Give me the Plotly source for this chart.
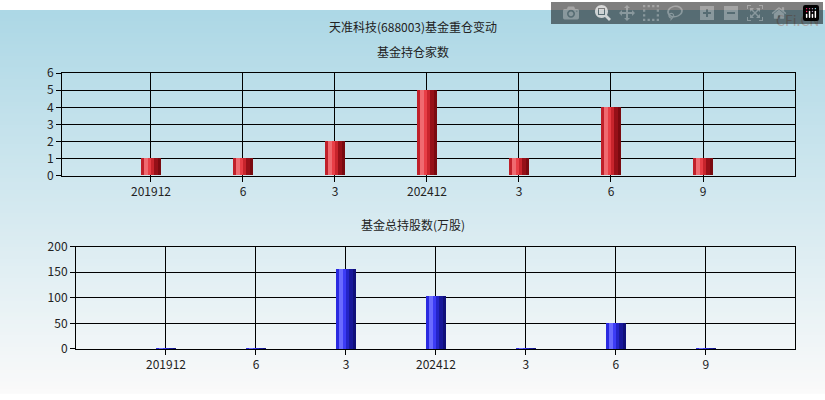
import plotly.graph_objects as go

labels = ["201912", "6", "3", "202412", "3", "6", "9"]
fund_count = [1, 1, 2, 5, 1, 4, 1]
fund_shares = [1.5, 1.5, 158, 105, 1.5, 52, 1.5]

x = list(range(len(labels)))
bar_w = 0.22

red_slices = ["#c0202a", "#f06a70", "#e83e46", "#c8242c", "#961018", "#7a0a10"]
blue_slices = ["#2a2ae0", "#6a6aff", "#3c3cf6", "#2424c8", "#18189a", "#10107a"]

fig = go.Figure()


def add_bars(values, colors, xa, ya):
    n = len(colors)
    for i, c in enumerate(colors):
        fig.add_trace(go.Bar(
            x=x, y=values, width=bar_w / n, offset=-bar_w / 2 + i * bar_w / n,
            marker=dict(color=c, line=dict(width=0)),
            xaxis=xa, yaxis=ya, showlegend=False, hoverinfo="y"))


add_bars(fund_count, red_slices, "x", "y")
add_bars(fund_shares, blue_slices, "x2", "y2")

# background gradient
shapes = []
n = 100
for i in range(n):
    t = i / (n - 1)
    r = int(173 + (250 - 173) * t)
    g = int(216 + (250 - 216) * t)
    b = int(230 + (250 - 230) * t)
    shapes.append(dict(type="rect", xref="paper", yref="paper", x0=0, x1=1,
                       y0=1 - (i + 1) / n - 0.002, y1=1 - i / n,
                       fillcolor=f"rgb({r},{g},{b})", line=dict(width=0), layer="below"))

axis_common = dict(showline=True, linecolor="black", linewidth=1, mirror=True,
                   gridcolor="black", gridwidth=1, ticks="outside", tickcolor="black",
                   tickfont=dict(size=12, color="#222"), zeroline=False)

fig.update_layout(
    width=825, height=400,
    margin=dict(l=0, r=0, t=0, b=0),
    paper_bgcolor="rgba(0,0,0,0)", plot_bgcolor="rgba(0,0,0,0)",
    barmode="overlay", bargap=0,
    font=dict(family="Noto Sans CJK SC, sans-serif", size=12, color="#222"),
    shapes=shapes,
    xaxis=dict(domain=[62 / 825, 795 / 825], anchor="y", range=[-0.967, 7.0],
               tickvals=x, ticktext=labels, showgrid=True, **axis_common),
    yaxis=dict(domain=[1 - 173 / 400, 1 - 66 / 400], anchor="x", range=[0, 6], dtick=1,
               showgrid=True, **axis_common),
    xaxis2=dict(domain=[76 / 825, 795 / 825], anchor="y2", range=[-1.0, 6.99],
                tickvals=x, ticktext=labels, showgrid=True, **axis_common),
    yaxis2=dict(domain=[1 - 354 / 400, 1 - 247 / 400], anchor="x2", range=[0, 200], dtick=50,
                showgrid=True, **axis_common),
    annotations=[
        dict(text="天准科技(688003)基金重仓变动", x=0.5, y=1 - 17 / 400, xref="paper", yref="paper",
             yanchor="middle", showarrow=False, font=dict(size=12)),
        dict(text="基金持仓家数", x=0.5, y=1 - 43 / 400, xref="paper", yref="paper",
             yanchor="middle", showarrow=False, font=dict(size=12)),
        dict(text="基金总持股数(万股)", x=0.5, y=1 - 224 / 400, xref="paper", yref="paper",
             yanchor="middle", showarrow=False, font=dict(size=12)),
        dict(text="CFi.CN", x=1 - 4 / 825, y=1 - 10 / 400, xref="paper", yref="paper",
             xanchor="right", yanchor="middle", showarrow=False, font=dict(size=14, color="#aaaaaa")),
    ],
)

fig.write_html("out.html",
               post_script="document.body.style.margin='0';document.body.style.overflow='hidden';")
